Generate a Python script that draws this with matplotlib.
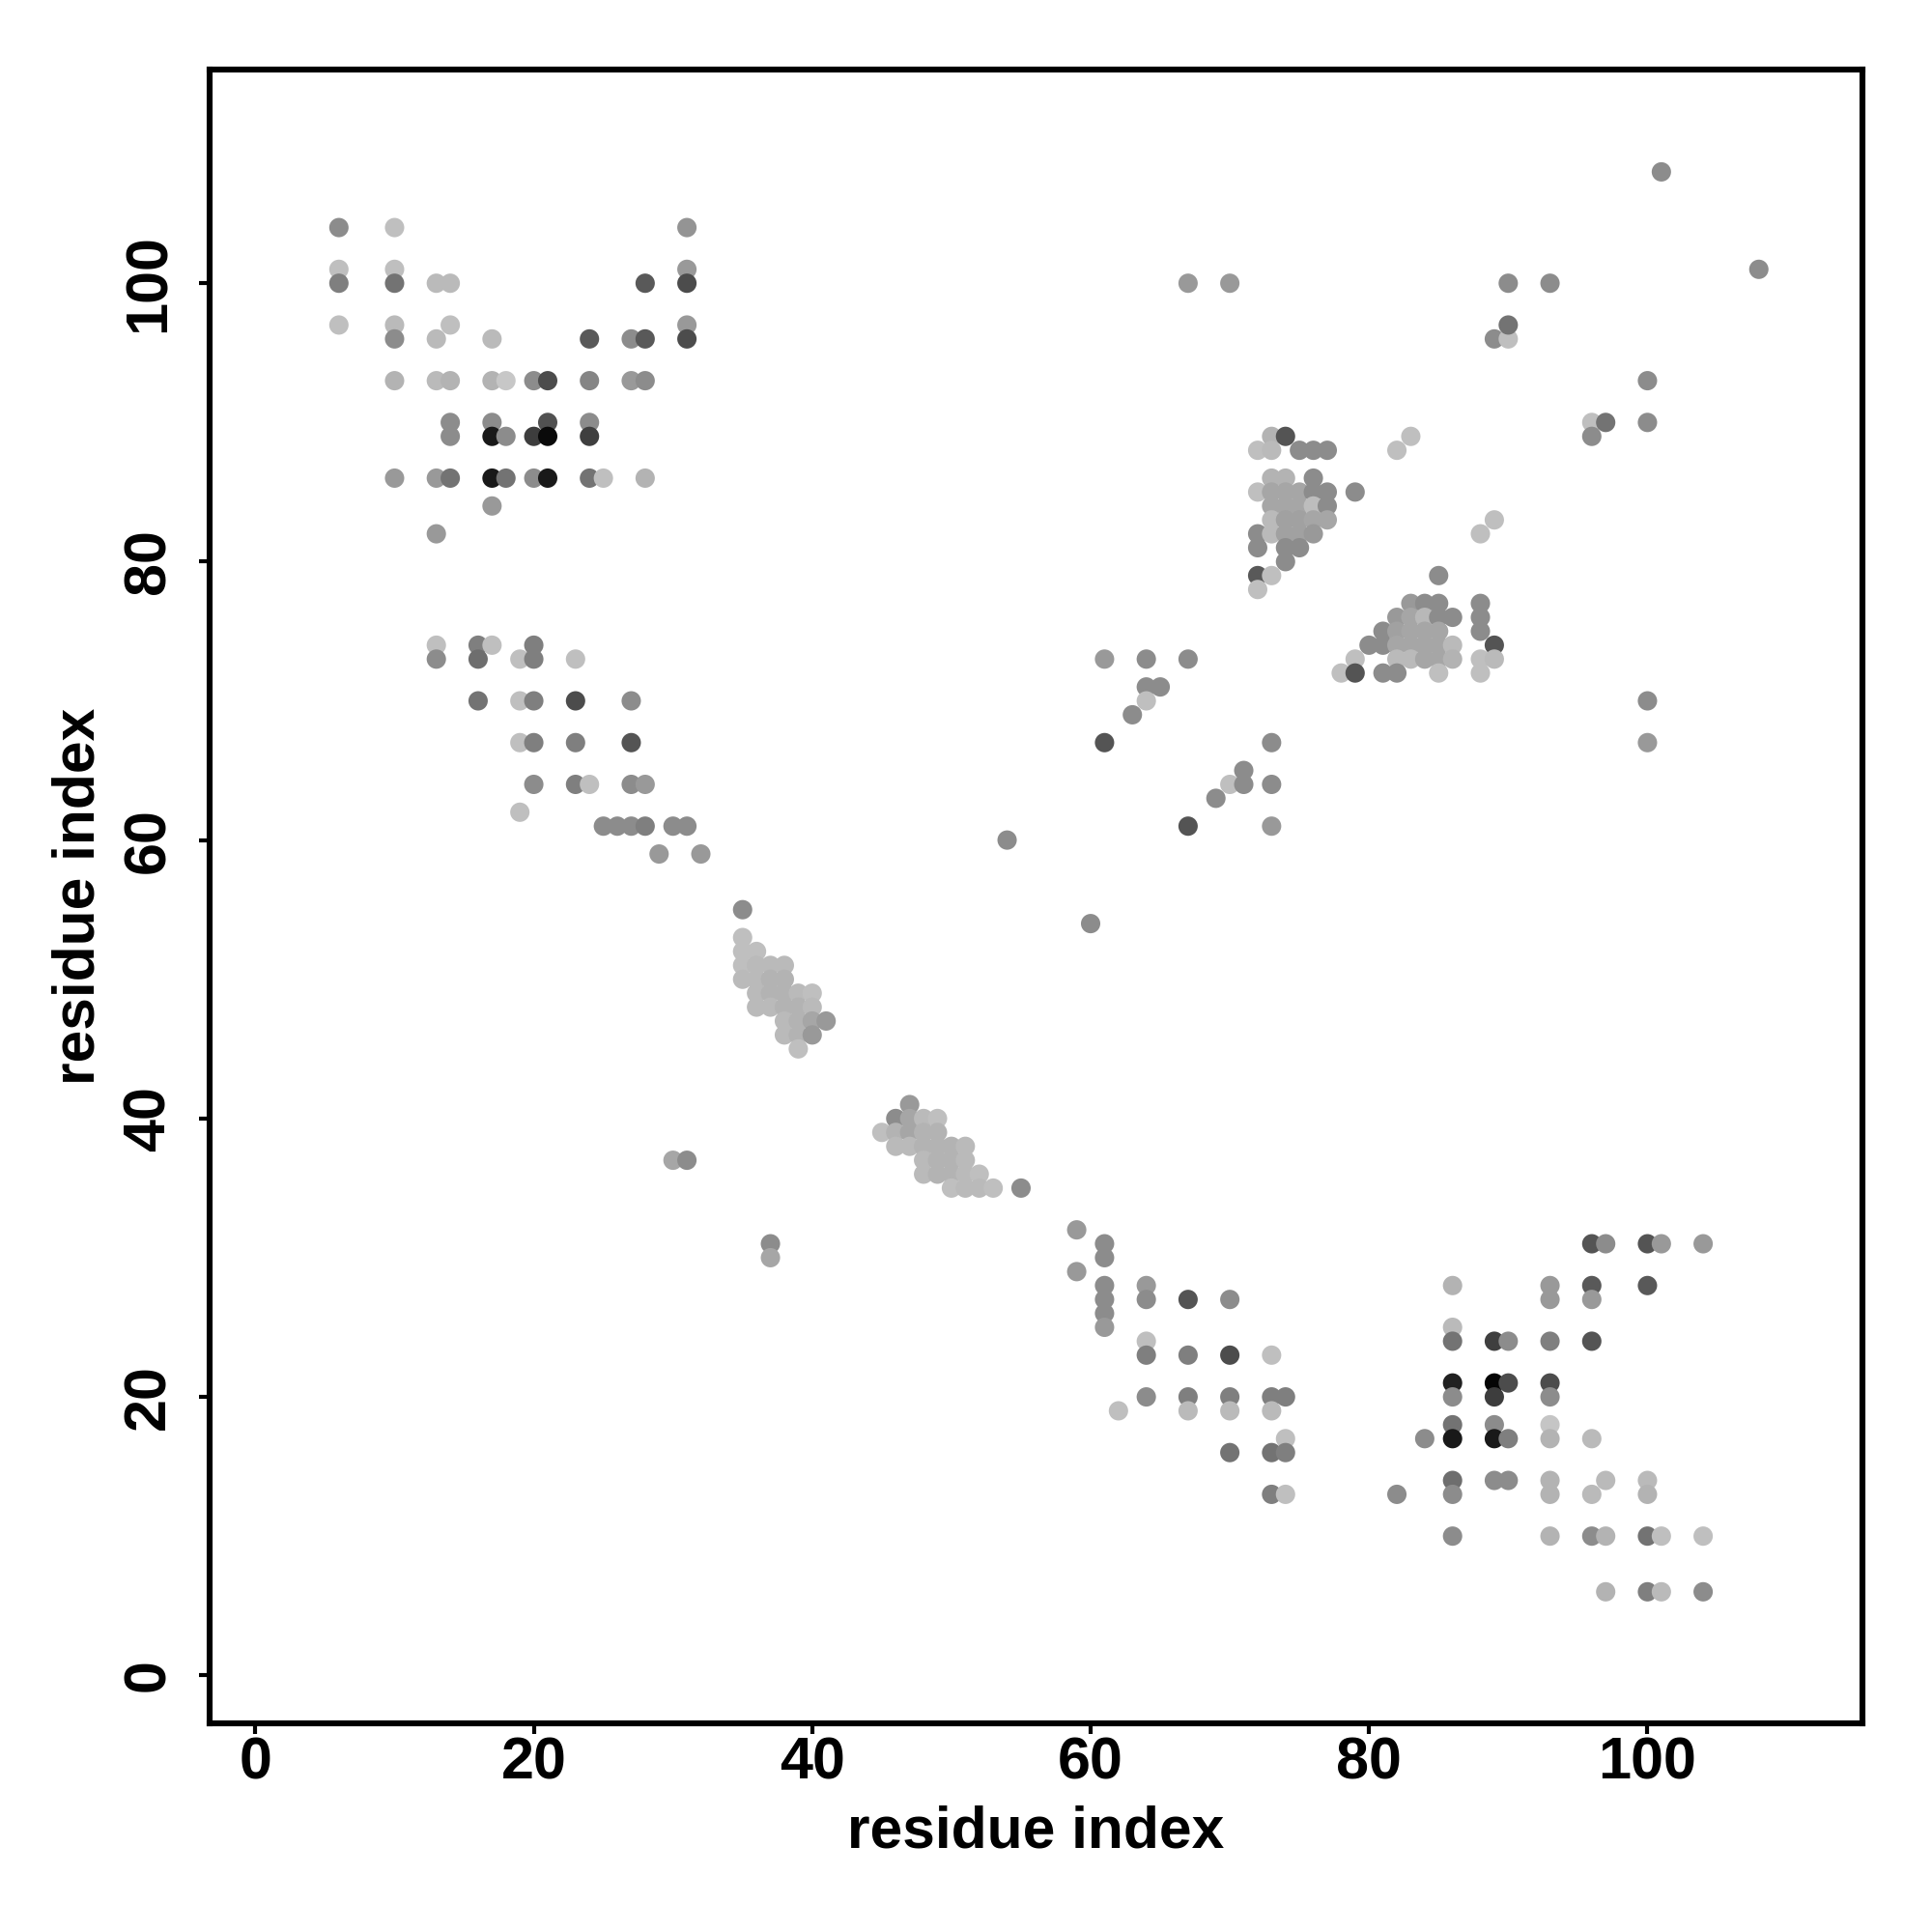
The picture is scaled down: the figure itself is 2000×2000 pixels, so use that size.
import matplotlib
matplotlib.use("Agg")
import matplotlib.pyplot as plt

# contact map: residue i, residue j, contact strength (0 = white, 1 = black)
res_i = [
    # upper-left block
    6, 10, 31,
    6, 10, 31,
    6, 10, 13, 14, 28, 31,
    6, 10, 14, 31,
    10, 13, 17, 24, 27, 28, 31,
    10, 13, 14, 17, 18, 20, 21, 24, 27, 28,
    14, 17, 21, 24,
    14, 17, 18, 20, 21, 24,
    10, 13, 14, 17, 18, 20, 21, 24, 25, 28,
    17, 13,
    # lower-left block
    13, 16, 17, 20,
    13, 16, 19, 20, 23,
    16, 19, 20, 23, 27,
    19, 20, 23, 27,
    20, 23, 24, 27, 28,
    19,
    25, 26, 27, 28, 30, 31,
    29, 32,
    # diagonal cluster 35-55
    35,
    35,
    35, 36,
    35, 36, 37, 38,
    35, 36, 37, 38,
    36, 37, 38, 39, 40,
    36, 37, 38, 39, 40,
    38, 39, 40, 41,
    38, 39, 40,
    39,
    # diagonal cluster 45-55
    47,
    46, 47, 48, 49,
    45, 46, 47, 48, 49,
    46, 47, 48, 49, 50, 51,
    48, 49, 50, 51,
    48, 49, 50, 51, 52,
    50, 51, 52, 53, 55,
    # isolated
    30, 31, 37, 37, 54, 60,
    # lower-middle block
    59, 61, 61, 59,
    61, 64, 61, 64, 67, 70,
    61, 61,
    64, 64, 67, 70, 73,
    64, 67, 70, 73, 74,
    62, 67, 70, 73,
    74, 70, 73, 74,
    73, 74,
    # lower-right block
    96, 97, 100, 101, 104,
    86, 93, 96, 100,
    93, 96,
    86, 86, 89, 90, 93, 96,
    86, 89, 90, 93,
    86, 89, 93,
    86, 89, 93,
    84, 86, 89, 90, 93, 96,
    86, 89, 90, 93, 97, 100,
    82, 86, 93, 96, 100,
    86, 93, 96, 97, 100, 101, 104,
    97, 100, 101, 104,
    # middle upper-right
    61, 64, 67,
    64, 65, 64, 63,
    61, 73, 71, 70, 71, 73,
    69, 67, 73,
    67, 70,
    # cluster 72-79 / 78-89
    73, 74,
    72, 73, 75, 76, 77,
    73, 74, 76,
    72, 73, 74, 75, 76, 77, 79,
    73, 74, 75, 76, 77,
    73, 74, 75, 76, 77,
    72, 73, 74, 75, 76,
    72, 74, 75,
    74,
    72, 73,
    72,
    # cluster 78-89 / 72-79
    85,
    83, 84, 85, 88,
    82, 83, 84, 85, 86, 88,
    81, 82, 83, 84, 85, 88,
    80, 81, 82, 83, 84, 85, 86, 89,
    79, 82, 83, 84, 85, 86, 88, 89,
    78, 79, 81, 82, 85, 88,
    # upper-right scattered
    82, 83, 88, 89,
    89, 90, 90, 90, 93,
    96, 97, 100, 96, 100,
    100, 100,
    101, 108,
]

res_j = [
    104, 104, 104,
    101, 101, 101,
    100, 100, 100, 100, 100, 100,
    97, 97, 97, 97,
    96, 96, 96, 96, 96, 96, 96,
    93, 93, 93, 93, 93, 93, 93, 93, 93, 93,
    90, 90, 90, 90,
    89, 89, 89, 89, 89, 89,
    86, 86, 86, 86, 86, 86, 86, 86, 86, 86,
    84, 82,
    74, 74, 74, 74,
    73, 73, 73, 73, 73,
    70, 70, 70, 70, 70,
    67, 67, 67, 67,
    64, 64, 64, 64, 64,
    62,
    61, 61, 61, 61, 61, 61,
    59, 59,
    55,
    53,
    52, 52,
    51, 51, 51, 51,
    50, 50, 50, 50,
    49, 49, 49, 49, 49,
    48, 48, 48, 48, 48,
    47, 47, 47, 47,
    46, 46, 46,
    45,
    41,
    40, 40, 40, 40,
    39, 39, 39, 39, 39,
    38, 38, 38, 38, 38, 38,
    37, 37, 37, 37,
    36, 36, 36, 36, 36,
    35, 35, 35, 35, 35,
    37, 37, 31, 30, 60, 54,
    32, 31, 30, 29,
    28, 28, 27, 27, 27, 27,
    26, 25,
    24, 23, 23, 23, 23,
    20, 20, 20, 20, 20,
    19, 19, 19, 19,
    17, 16, 16, 16,
    13, 13,
    31, 31, 31, 31, 31,
    28, 28, 28, 28,
    27, 27,
    25, 24, 24, 24, 24, 24,
    21, 21, 21, 21,
    20, 20, 20,
    18, 18, 18,
    17, 17, 17, 17, 17, 17,
    14, 14, 14, 14, 14, 14,
    13, 13, 13, 13, 13,
    10, 10, 10, 10, 10, 10, 10,
    6, 6, 6, 6,
    73, 73, 73,
    71, 71, 70, 69,
    67, 67, 65, 64, 64, 64,
    63, 61, 61,
    100, 100,
    89, 89,
    88, 88, 88, 88, 88,
    86, 86, 86,
    85, 85, 85, 85, 85, 85, 85,
    84, 84, 84, 84, 84,
    83, 83, 83, 83, 83,
    82, 82, 82, 82, 82,
    81, 81, 81,
    80,
    79, 79,
    78,
    79,
    77, 77, 77, 77,
    76, 76, 76, 76, 76, 76,
    75, 75, 75, 75, 75, 75,
    74, 74, 74, 74, 74, 74, 74, 74,
    73, 73, 73, 73, 73, 73, 73, 73,
    72, 72, 72, 72, 72, 72,
    88, 89, 82, 83,
    96, 96, 97, 100, 100,
    90, 90, 90, 89, 93,
    70, 67,
    108, 101,
]

strength = [
    .45, .25, .42,
    .25, .25, .40,
    .50, .55, .27, .27, .65, .70,
    .25, .27, .25, .40,
    .45, .27, .27, .65, .45, .65, .70,
    .30, .27, .30, .30, .22, .45, .70, .48, .40, .45,
    .45, .45, .68, .45,
    .45, .90, .45, .76, .96, .75,
    .40, .40, .55, .90, .55, .45, .90, .55, .25, .30,
    .40, .40,
    .25, .50, .25, .50,
    .45, .57, .25, .50, .25,
    .55, .25, .50, .70, .45,
    .25, .50, .50, .67,
    .45, .50, .25, .45, .40,
    .25,
    .45, .45, .45, .50, .45, .45,
    .40, .40,
    .45,
    .25,
    .25, .25,
    .25, .27, .27, .27,
    .27, .27, .30, .30,
    .27, .30, .30, .27, .25,
    .27, .27, .30, .30, .27,
    .27, .30, .35, .40,
    .27, .30, .40,
    .25,
    .40,
    .45, .35, .27, .25,
    .25, .30, .35, .30, .30,
    .27, .27, .30, .30, .30, .27,
    .27, .30, .30, .27,
    .27, .30, .30, .27, .25,
    .25, .27, .27, .25, .45,
    .35, .45, .45, .35, .45, .45,
    .40, .45, .45, .40,
    .45, .40, .45, .45, .67, .45,
    .45, .40,
    .25, .50, .50, .70, .25,
    .45, .50, .50, .50, .50,
    .25, .27, .27, .27,
    .25, .55, .55, .50,
    .50, .25,
    .67, .45, .67, .40, .40,
    .30, .40, .65, .65,
    .40, .40,
    .27, .55, .75, .45, .50, .67,
    .87, .98, .70, .70,
    .45, .76, .45,
    .55, .45, .23,
    .45, .90, .90, .50, .30, .27,
    .57, .45, .45, .30, .27, .27,
    .45, .45, .30, .27, .30,
    .45, .30, .45, .30, .55, .25, .25,
    .30, .50, .27, .45,
    .40, .45, .45,
    .45, .45, .25, .45,
    .67, .45, .45, .25, .45, .45,
    .45, .67, .40,
    .40, .40,
    .30, .67,
    .25, .27, .45, .45, .45,
    .30, .30, .45,
    .25, .35, .35, .35, .45, .45, .45,
    .35, .35, .35, .26, .45,
    .27, .37, .37, .35, .35,
    .45, .27, .37, .37, .40,
    .45, .45, .45,
    .45,
    .65, .25,
    .25,
    .45,
    .40, .45, .45, .45,
    .40, .35, .28, .45, .45, .45,
    .45, .37, .35, .35, .35, .45,
    .45, .45, .35, .35, .35, .35, .27, .67,
    .25, .27, .27, .35, .35, .30, .25, .27,
    .25, .67, .45, .45, .25, .25,
    .25, .25, .25, .25,
    .45, .25, .55, .45, .45,
    .25, .55, .45, .45, .45,
    .45, .40,
    .45, .45,
]

TICKS = [0, 20, 40, 60, 80, 100]

plt.rcParams["font.family"] = ["Liberation Sans", "DejaVu Sans"]
plt.rcParams["font.weight"] = "bold"

fig = plt.figure(figsize=(10, 10), dpi=200)
ax = fig.add_axes([0.1084, 0.108, 0.8555, 0.856])

ax.scatter(res_i, res_j, c=strength, cmap="gray_r", vmin=0, vmax=1,
           s=52, linewidths=0, zorder=2)

ax.set_xlim(-3.3, 115.43)
ax.set_ylim(-3.45, 115.35)
ax.set_xticks(TICKS)
ax.set_yticks(TICKS)
ax.tick_params(axis="both", length=4, width=1.5, labelsize=22, direction="out")
ax.tick_params(axis="x", pad=1)
ax.tick_params(axis="y", pad=8)
plt.setp(ax.get_yticklabels(), rotation=90, va="center")
for lab in ax.get_xticklabels() + ax.get_yticklabels():
    lab.set_fontweight("bold")

for sp in ax.spines.values():
    sp.set_linewidth(2.2)

ax.set_xlabel("residue index", fontsize=21.8, fontweight="bold", labelpad=5)
ax.set_ylabel("residue index", fontsize=21.8, fontweight="bold", labelpad=5.6)

fig.savefig("out.png", dpi=200, facecolor="white")
